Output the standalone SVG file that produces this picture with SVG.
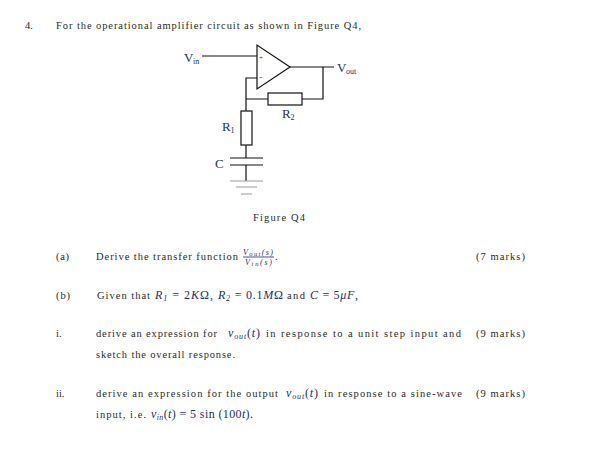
<svg xmlns="http://www.w3.org/2000/svg" width="616" height="473" viewBox="0 0 616 473">
<style>
text{font-family:"Liberation Serif","Times New Roman",serif;font-size:10.5px;fill:#2a2a2a}
.m{font-family:"Liberation Serif",serif;font-style:italic;font-size:12px;fill:#1c2f66}
.r{font-style:normal;font-size:12px;fill:#1c2f66}
.l{font-size:13px;fill:#1c2f66}
.s{font-size:8px;fill:#1c2f66}
.f{font-style:italic;font-size:8px;fill:#1c2f66}
.w{fill:none;stroke:#111;stroke-width:1.2}
.g{fill:none;stroke:#999;stroke-width:1.2}
</style>
<rect width="616" height="473" fill="#fff"/>
<g id="connectors">
<path class="w" d="M202 56H257M257 78H246V111M246 99H268M302 99H323V67M290 67H334M246 145V158M246 165V181"/>
</g>
<g id="opamp"><path class="w" d="M257 45V89L290 67Z"/>
<text x="259" y="59.500" style="font-size:7px">+</text><text x="259.500" y="80" style="font-size:8px">-</text></g>
<g id="vin"><text class="l" x="184" y="62">V</text><text class="s" x="193" y="64">in</text></g>
<g id="vout"><text class="l" x="337" y="72">V</text><text class="s" x="346" y="74">out</text></g>
<g id="r2"><rect class="w" x="268" y="93" width="34" height="12"/><text class="l" x="282" y="118">R</text><text class="s" x="290.500" y="120">2</text></g>
<g id="r1"><rect class="w" x="241" y="111" width="11" height="34"/><text class="l" x="222" y="131">R</text><text class="s" x="230.500" y="133">1</text></g>
<g id="c"><path class="w" d="M230 158H263M230 165H263"/><text class="l" x="215" y="168">C</text></g>
<g id="ground"><path class="g" d="M230 181H263M236 187H257M241 194H252"/></g>
<g id="text">
<text x="25" y="29">4.</text>
<text x="56" y="29" textLength="305" lengthAdjust="spacing">For the operational amplifier circuit as shown in Figure Q4,</text>
<text x="253" y="221" textLength="52" lengthAdjust="spacing">Figure Q4</text>
<text x="56" y="260" textLength="13" lengthAdjust="spacing">(a)</text>
<text x="96" y="260" textLength="142" lengthAdjust="spacing">Derive the transfer function</text>
<text class="f" x="243" y="254.500" textLength="30" lengthAdjust="spacing">V<tspan font-size="6.500" dy="1">out</tspan><tspan dy="-1">(s)</tspan></text>
<path d="M243 257H274" stroke="#1c2f66" stroke-width=".8"/>
<text class="f" x="245" y="264.500" textLength="27" lengthAdjust="spacing">V<tspan font-size="6.500" dy="1">in</tspan><tspan dy="-1">(s)</tspan></text>
<text x="275" y="260">.</text>
<text x="476" y="260" textLength="49" lengthAdjust="spacing">(7 marks)</text>
<text x="56" y="299" textLength="14" lengthAdjust="spacing">(b)</text>
<text x="97" y="299" textLength="53" lengthAdjust="spacing">Given that</text>
<text class="m" x="155" y="299" textLength="58" lengthAdjust="spacing">R<tspan font-size="8" dy="2">1</tspan><tspan class="r" dy="-2"> = 2</tspan>K<tspan class="r">Ω,</tspan></text>
<text class="m" x="218" y="299" textLength="65" lengthAdjust="spacing">R<tspan font-size="8" dy="2">2</tspan><tspan class="r" dy="-2"> = 0.1</tspan>M<tspan class="r">Ω</tspan></text>
<text x="287" y="299" textLength="18" lengthAdjust="spacing">and</text>
<text class="m" x="310" y="299" textLength="48" lengthAdjust="spacing">C<tspan class="r"> = 5</tspan>μF<tspan class="r">,</tspan></text>
<text x="56" y="337">i.</text>
<text x="96" y="337" textLength="121" lengthAdjust="spacing">derive an expression for</text>
<text class="m" x="228" y="337" textLength="32" lengthAdjust="spacing">v<tspan font-size="8" dy="2">out</tspan><tspan class="r" dy="-2">(</tspan>t<tspan class="r">)</tspan></text>
<text x="266" y="337" textLength="195" lengthAdjust="spacing">in response to a unit step input and</text>
<text x="476" y="337" textLength="49" lengthAdjust="spacing">(9 marks)</text>
<text x="96" y="358" textLength="139" lengthAdjust="spacing">sketch the overall response.</text>
<text x="56" y="397">ii.</text>
<text x="96" y="397" textLength="182" lengthAdjust="spacing">derive an expression for the output</text>
<text class="m" x="286" y="397" textLength="32" lengthAdjust="spacing">v<tspan font-size="8" dy="2">out</tspan><tspan class="r" dy="-2">(</tspan>t<tspan class="r">)</tspan></text>
<text x="324" y="397" textLength="138" lengthAdjust="spacing">in response to a sine-wave</text>
<text x="476" y="397" textLength="49" lengthAdjust="spacing">(9 marks)</text>
<text x="96" y="418" textLength="50" lengthAdjust="spacing">input, i.e.</text>
<text class="m" x="151" y="418" textLength="102" lengthAdjust="spacing">v<tspan font-size="8" dy="2">in</tspan><tspan class="r" dy="-2">(</tspan>t<tspan class="r">) = 5 sin (100</tspan>t<tspan class="r">).</tspan></text>
</g>
</svg>
